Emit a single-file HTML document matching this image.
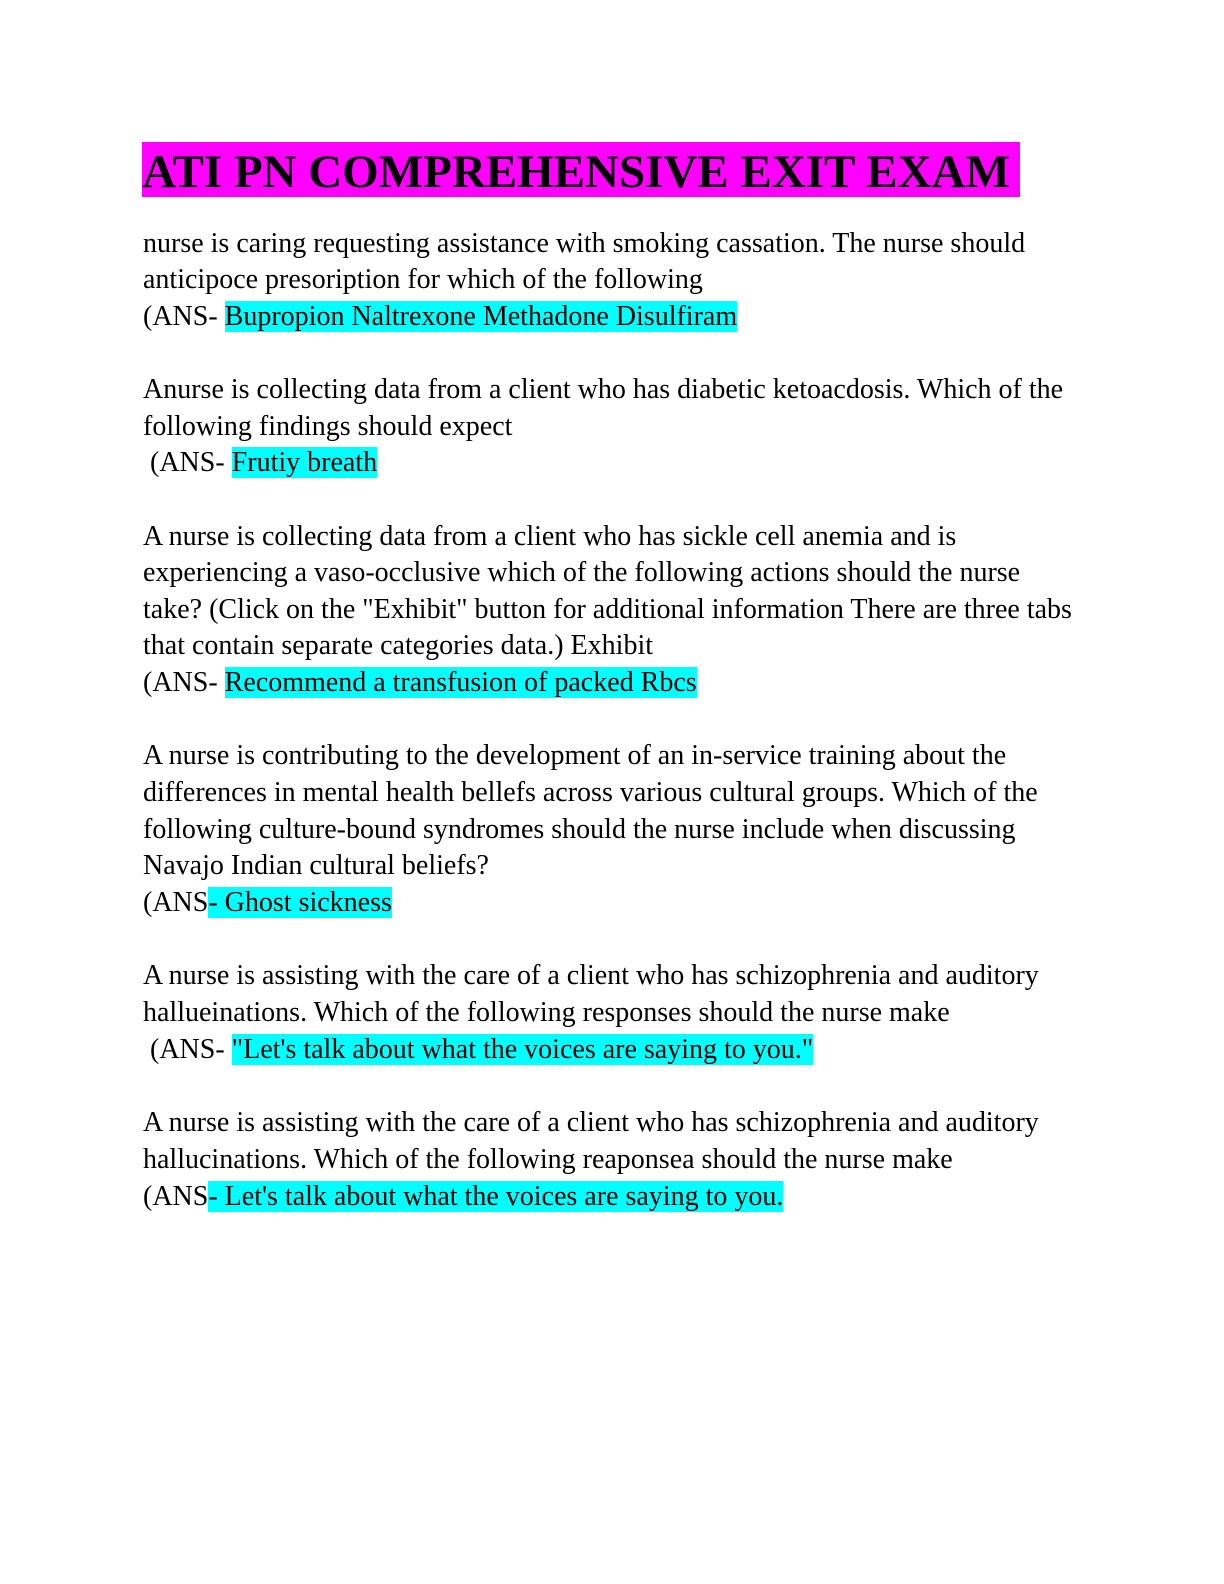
<!DOCTYPE html>
<html><head><meta charset="utf-8"><style>
body{margin:0;width:1224px;height:1584px;background:#fff;position:relative;font-family:"Liberation Serif",serif;color:#000;}
.l{position:absolute;left:143px;font-size:28px;line-height:32px;white-space:nowrap;}
.h{background:#00ffff;}
.t{position:absolute;left:142px;top:142px;height:55px;width:878px;background:#ff00ff;font-weight:bold;font-size:47px;line-height:60px;white-space:nowrap;}
</style></head><body>
<div class="t">ATI PN COMPREHENSIVE EXIT EXAM</div>
<div class="l" style="top:228px">nurse is caring requesting assistance with smoking cassation. The nurse should</div>
<div class="l" style="top:264px">anticipoce presoription for which of the following</div>
<div class="l" style="top:301px">(ANS- <span class="h">Bupropion Naltrexone Methadone Disulfiram</span></div>
<div class="l" style="top:374px">Anurse is collecting data from a client who has diabetic ketoacdosis. Which of the</div>
<div class="l" style="top:411px">following findings should expect</div>
<div class="l" style="top:447px">&nbsp;(ANS- <span class="h">Frutiy breath</span></div>
<div class="l" style="top:521px">A nurse is collecting data from a client who has sickle cell anemia and is</div>
<div class="l" style="top:557px">experiencing a vaso-occlusive which of the following actions should the nurse</div>
<div class="l" style="top:594px">take? (Click on the "Exhibit" button for additional information There are three tabs</div>
<div class="l" style="top:630px">that contain separate categories data.) Exhibit</div>
<div class="l" style="top:667px">(ANS- <span class="h">Recommend a transfusion of packed Rbcs</span></div>
<div class="l" style="top:740px">A nurse is contributing to the development of an in-service training about the</div>
<div class="l" style="top:777px">differences in mental health bellefs across various cultural groups. Which of the</div>
<div class="l" style="top:814px">following culture-bound syndromes should the nurse include when discussing</div>
<div class="l" style="top:850px">Navajo Indian cultural beliefs?</div>
<div class="l" style="top:887px">(ANS<span class="h">- Ghost sickness</span></div>
<div class="l" style="top:960px">A nurse is assisting with the care of a client who has schizophrenia and auditory</div>
<div class="l" style="top:997px">hallueinations. Which of the following responses should the nurse make</div>
<div class="l" style="top:1034px">&nbsp;(ANS- <span class="h">"Let's talk about what the voices are saying to you."</span></div>
<div class="l" style="top:1107px">A nurse is assisting with the care of a client who has schizophrenia and auditory</div>
<div class="l" style="top:1144px">hallucinations. Which of the following reaponsea should the nurse make</div>
<div class="l" style="top:1181px">(ANS<span class="h">- Let's talk about what the voices are saying to you.</span></div>
</body></html>
